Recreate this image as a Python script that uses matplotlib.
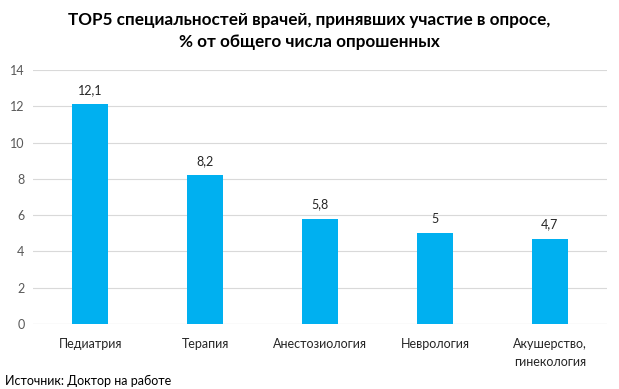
import numpy as np
import matplotlib.pyplot as plt

plt.rcParams['font.family'] = ['Lato', 'DejaVu Sans']

categories = ['Педиатрия', 'Терапия', 'Анестозиология', 'Неврология', 'Акушерство,\nгинекология']
values = [12.1, 8.2, 5.8, 5.0, 4.7]
labels = ['12,1', '8,2', '5,8', '5', '4,7']
yticks = [0, 2, 4, 6, 8, 10, 12, 14]

fig = plt.figure(figsize=(6.19, 3.89), dpi=100)
ax = fig.add_axes([0.053, 0.167, 0.928, 0.653])

x = np.arange(len(categories))
ax.bar(x, values, width=0.31, color='#00B0F0', zorder=3)
for xi, v, lab in zip(x, values, labels):
    ax.text(xi, v + 0.45, lab, ha='center', va='bottom', fontsize=9, color='#262626')

ax.set_xlim(-0.5, len(categories) - 0.5)
ax.set_ylim(0, 14)
ax.set_yticks(yticks)
ax.set_yticklabels([str(t) for t in yticks], fontsize=9, color='#595959')
ax.set_xticks(x)
ax.set_xticklabels(categories, fontsize=9, color='#262626', linespacing=1.6)
ax.tick_params(axis='both', length=0, pad=10)
ax.tick_params(axis='y', pad=6)
ax.grid(axis='y', color='#D9D9D9', linewidth=0.8, zorder=0)
for s in ax.spines.values():
    s.set_visible(False)
ax.axhline(0, color='#D9D9D9', linewidth=0.8, zorder=1)

fig.text(0.5, 0.97, 'TOP5 специальностей врачей, принявших участие в опросе,\n% от общего числа опрошенных',
         ha='center', va='top', fontsize=12.3, fontweight='bold', color='black', linespacing=1.45)
fig.text(0.008, 0.006, 'Источник: Доктор на работе', ha='left', va='bottom', fontsize=9, color='black')

fig.savefig('out.png', dpi=100)
